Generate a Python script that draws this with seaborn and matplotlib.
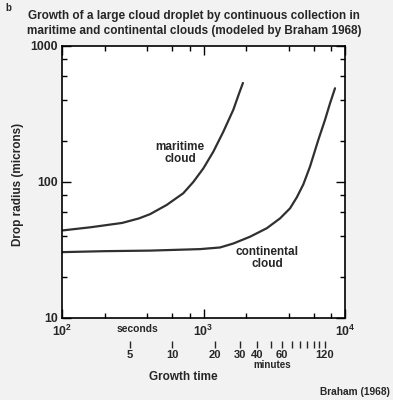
import pandas as pd
import seaborn as sns
import matplotlib
matplotlib.use('Agg')
import matplotlib.pyplot as plt
from matplotlib.ticker import LogLocator, NullFormatter, FixedLocator, FixedFormatter


maritime_time = [100, 160, 266, 350, 419, 549, 719, 847, 998, 1173, 1380, 1625, 1780, 1900]
maritime_radius = [44, 46.5, 50, 54, 58, 67.8, 82.6, 100, 126, 167, 234, 340, 445, 535]

continental_time = [100, 200, 419, 945, 1308, 1625, 2133, 2799, 3475, 4086, 4560, 5075, 5661,
                    6478, 7220, 7838, 8500]
continental_radius = [30.5, 31, 31.3, 32.1, 33, 35.3, 39.6, 45.7, 54, 64, 77, 96, 130,
                      204, 286, 379, 489]

minute_ticks = [5, 10, 20, 30, 40, 60, 120]
minute_minor = [50, 70, 80, 90, 100, 110]

W, H = 393, 400
BG = '#f2f2f2'
LINE = '#303030'


def fx(px):
    return px / W


def fy(py):
    return 1 - py / H


def build_frame():
    df_m = pd.DataFrame({'time': maritime_time, 'radius': maritime_radius, 'cloud': 'maritime'})
    df_c = pd.DataFrame({'time': continental_time, 'radius': continental_radius, 'cloud': 'continental'})
    return pd.concat([df_m, df_c], ignore_index=True)


def main():
    sns.set_style('ticks')
    plt.rcParams['font.family'] = ['Liberation Sans', 'DejaVu Sans']
    plt.rcParams['font.weight'] = 'bold'
    plt.rcParams['mathtext.fontset'] = 'custom'
    plt.rcParams['mathtext.bf'] = 'Liberation Sans:bold'
    plt.rcParams['mathtext.rm'] = 'Liberation Sans:bold'

    fig = plt.figure(figsize=(W / 100, H / 100), dpi=100, facecolor=BG)
    ax = fig.add_axes([fx(62), fy(318), fx(345) - fx(62), fy(46) - fy(318)])
    ax.set_facecolor('white')

    df = build_frame()
    sns.lineplot(data=df, x='time', y='radius', hue='cloud', units='cloud', estimator=None,
                 palette={'maritime': LINE, 'continental': LINE}, sort=False,
                 linewidth=1.6, legend=False, ax=ax)

    ax.set_xscale('log')
    ax.set_yscale('log')
    ax.set_xlim(100, 10000)
    ax.set_ylim(10, 1000)

    for axis in (ax.xaxis, ax.yaxis):
        axis.set_minor_locator(LogLocator(base=10, subs=(2, 4, 6, 8), numticks=10))
        axis.set_minor_formatter(NullFormatter())

    ax.xaxis.set_major_locator(FixedLocator([100, 1000, 10000]))
    ax.xaxis.set_major_formatter(FixedFormatter([r'$\mathbf{10^{2}}$', r'$\mathbf{10^{3}}$', r'$\mathbf{10^{4}}$']))
    ax.yaxis.set_major_locator(FixedLocator([10, 100, 1000]))
    ax.yaxis.set_major_formatter(FixedFormatter(['10', '100', '1000']))

    ax.tick_params(which='both', direction='in', top=True, right=True, color='black', width=1)
    ax.tick_params(which='major', length=6.5)
    ax.tick_params(which='minor', length=3.8)
    ax.tick_params(axis='y', which='major', labelsize=8.8, pad=3)
    ax.tick_params(axis='x', which='major', labelsize=8.8, pad=4)
    for s in ax.spines.values():
        s.set_linewidth(1.2)
        s.set_color('black')
    ax.set_xlabel('')
    ax.set_ylabel('')

    # minutes scale under the seconds axis
    sec = ax.secondary_xaxis((318 - 348) / 272, functions=(lambda s: s / 60, lambda m: m * 60))
    sec.spines['bottom'].set_visible(False)
    sec.set_xticks(minute_ticks)
    sec.set_xticklabels([str(m) for m in minute_ticks])
    sec.set_xticks(minute_minor, minor=True)
    sec.xaxis.set_minor_formatter(NullFormatter())
    sec.tick_params(which='both', direction='in', length=5.2, width=1, pad=1.5, labelsize=8)

    fig.text(fx(180), fy(153), 'maritime\ncloud', ha='center', va='center', fontsize=8.5,
             fontweight='bold', linespacing=1.05)
    fig.text(fx(267), fy(258), 'continental\ncloud', ha='center', va='center', fontsize=8.5,
             fontweight='bold', linespacing=1.05)

    fig.text(fx(194), fy(15.5), 'Growth of a large cloud droplet by continuous collection in',
             ha='center', va='center', fontsize=8.5, fontweight='bold')
    fig.text(fx(194), fy(31), 'maritime and continental clouds (modeled by Braham 1968)',
             ha='center', va='center', fontsize=8.5, fontweight='bold')
    fig.text(fx(8), fy(8), 'b', ha='center', va='center', fontsize=7, fontweight='bold')
    fig.text(fx(18), fy(184), 'Drop radius (microns)', ha='center', va='center', rotation=90,
             fontsize=8.5, fontweight='bold')
    fig.text(fx(137), fy(328.5), 'seconds', ha='center', va='center', fontsize=7.4, fontweight='bold')
    fig.text(fx(272), fy(365.5), 'minutes', ha='center', va='center', fontsize=7, fontweight='bold')
    fig.text(fx(183), fy(377), 'Growth time', ha='center', va='center', fontsize=8.5, fontweight='bold')
    fig.text(fx(390), fy(392), 'Braham (1968)', ha='right', va='center', fontsize=7.3, fontweight='bold')

    fig.savefig('out.png', dpi=100, facecolor=BG)


main()
